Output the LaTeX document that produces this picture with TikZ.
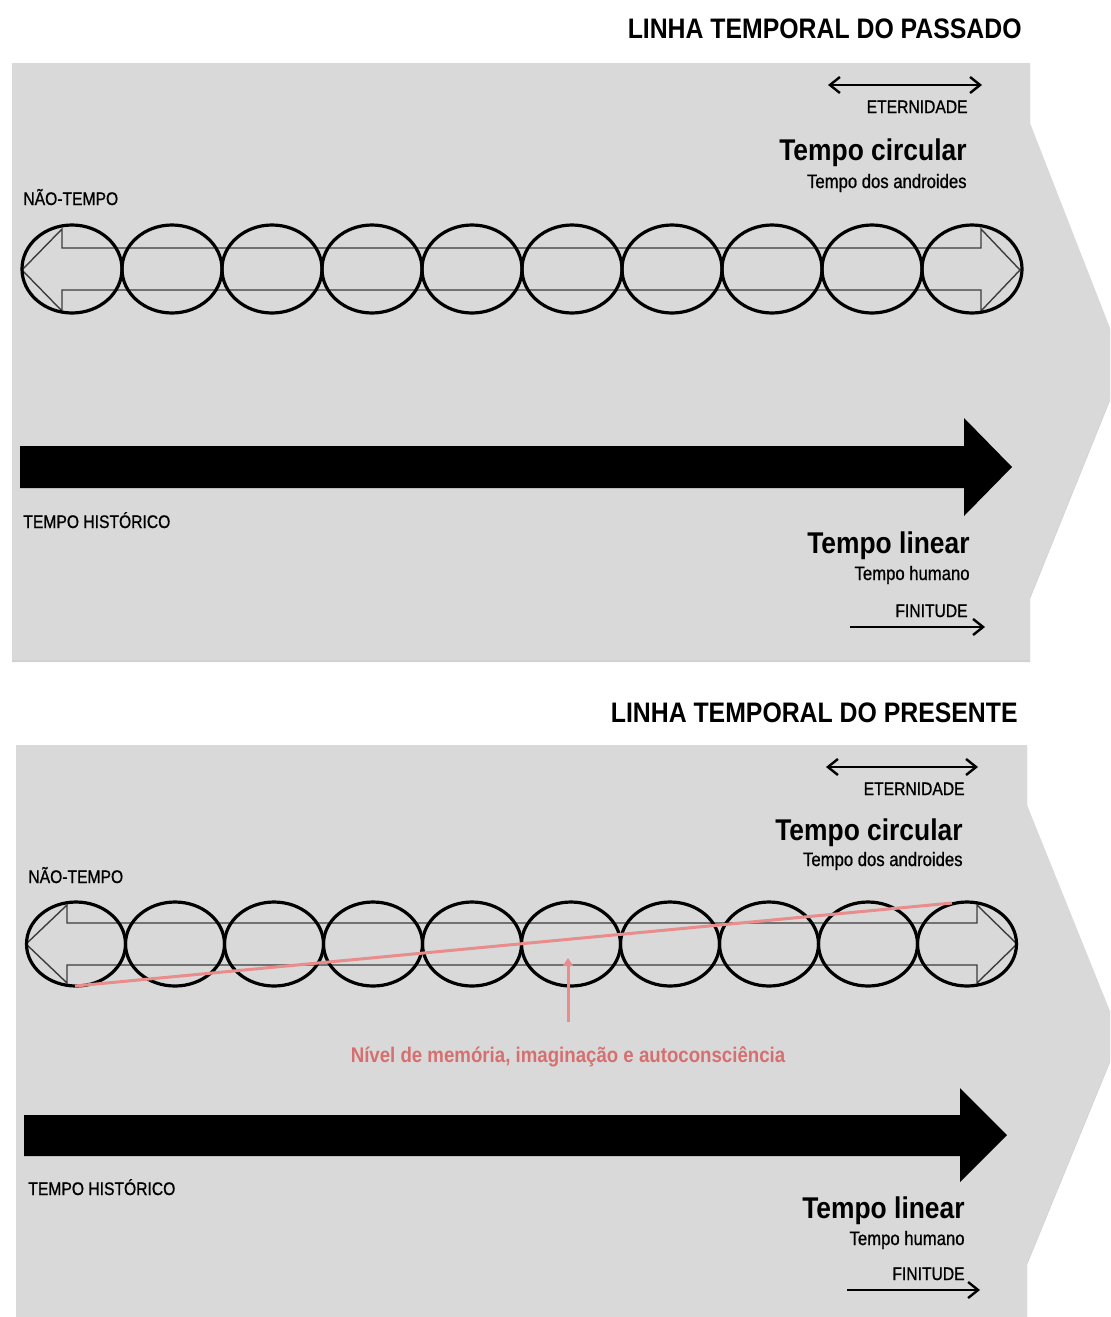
\documentclass[tikz,border=0pt]{standalone}
\usepackage{fontspec}
\setmainfont{Liberation Sans}[FakeStretch=0.88]
\newfontfamily\tagfont{Liberation Sans}[FakeStretch=0.86, FakeBold=0.9]
\usetikzlibrary{shapes.geometric, positioning, arrows.meta, shadows}
\definecolor{panelgray}{RGB}{217,217,217}
\definecolor{memred}{RGB}{232,140,140}
\definecolor{memtext}{RGB}{214,112,112}
\definecolor{outline}{RGB}{60,60,60}

\begin{document}
\begin{tikzpicture}[
    x=0.5pt, y=-0.5pt,
    panel/.style={fill=panelgray, draw=none, drop shadow={shadow xshift=0pt, shadow yshift=-1pt, opacity=0.18, fill=black}},
    heading/.style={font=\fontsize{14.1}{16}\selectfont\bfseries, inner sep=0pt, anchor=base east},
    bigname/.style={font=\fontsize{15}{17}\selectfont\bfseries, inner sep=0pt, anchor=base east},
    subname/.style={font=\tagfont\fontsize{9.7}{11}\selectfont, inner sep=0pt, anchor=base east},
    tag/.style={font=\tagfont\fontsize{9.1}{11}\selectfont, inner sep=0pt},
    ring/.style={ellipse, draw=black, line width=1.6pt, minimum width=50pt, minimum height=44pt, inner sep=0pt},
    hollow/.style={draw=outline, line width=0.7pt, line join=miter},
    blockarrow/.style={fill=black, draw=none},
    twoway/.style={line width=1.2pt, {Straight Barb[length=5pt,width=8pt]}-{Straight Barb[length=5pt,width=8pt]}},
    oneway/.style={line width=1.2pt, -{Straight Barb[length=5pt,width=8pt]}},
    memline/.style={draw=memred, line width=1.5pt},
    memarrow/.style={draw=memred, line width=1.5pt, -{Triangle[length=4pt,width=5pt]}},
    memtag/.style={font=\fontsize{10.6}{12}\selectfont\bfseries, text=memtext, inner sep=0pt, anchor=base},
]
\useasboundingbox (0,0) rectangle (1110,1317);
\clip (0,0) rectangle (1110,1317);

% Past timeline
\node[heading] (pastTitle) at (1022,39) {LINHA TEMPORAL DO PASSADO};
\path[panel] (12,63) -- (1030,63) -- (1030,123) -- (1124,364) -- (1030,597) -- (1030,660) -- (12,660) -- cycle;

\coordinate (pastEternL) at (828,85);
\coordinate (pastEternR) at (982,85);
\draw[twoway] (pastEternL) -- (pastEternR);
\node[tag, anchor=base east] (pastEtern) at (968,113) {ETERNIDADE};
\node[bigname] (pastCirc) at (967,160) {Tempo circular};
\node[subname] (pastAndroid) at (967,188) {Tempo dos androides};
\node[tag, anchor=base west] (pastNon) at (23,205) {NÃO-TEMPO};

\draw[hollow] (22,270) -- (62,229) -- (62,248) -- (981,248) -- (981,229) -- (1020,270)
    -- (981,311) -- (981,290) -- (62,290) -- (62,311) -- cycle;
\foreach \i in {0,...,9}
    \node[ring] (pastRing\i) at (72+100*\i,269) {};

\path[blockarrow] (20,446) -- (964,446) -- (964,418) -- (1012,467) -- (964,516) -- (964,488) -- (20,488) -- cycle;
\node[tag, anchor=base west] (pastHist) at (23,528) {TEMPO HISTÓRICO};
\node[bigname] (pastLin) at (970,553) {Tempo linear};
\node[subname] (pastHuman) at (970,580) {Tempo humano};
\node[tag, anchor=base east] (pastFin) at (968,617) {FINITUDE};
\coordinate (pastFinL) at (850,627);
\coordinate (pastFinR) at (985,627);
\draw[oneway] (pastFinL) -- (pastFinR);

% Present timeline
\node[heading] (presTitle) at (1018,722) {LINHA TEMPORAL DO PRESENTE};
\path[panel] (16,745) -- (1027,745) -- (1027,805) -- (1120,1036) -- (1027,1263) -- (1027,1342) -- (16,1342) -- cycle;

\coordinate (presEternL) at (826,767);
\coordinate (presEternR) at (978,767);
\draw[twoway] (presEternL) -- (presEternR);
\node[tag, anchor=base east] (presEtern) at (965,795) {ETERNIDADE};
\node[bigname] (presCirc) at (963,840) {Tempo circular};
\node[subname] (presAndroid) at (963,866) {Tempo dos androides};
\node[tag, anchor=base west] (presNon) at (28,883) {NÃO-TEMPO};

\draw[hollow] (26,944) -- (67,905) -- (67,923) -- (977,923) -- (977,905) -- (1017,944)
    -- (977,983) -- (977,965) -- (67,965) -- (67,983) -- cycle;
\foreach \i in {0,...,9}
    \node[ring, minimum width=49.5pt, minimum height=42pt] (presRing\i) at (76+99*\i,944) {};

% memory level
\coordinate (memLow) at (75,986);
\coordinate (memHigh) at (952,903);
\draw[memline] (memLow) -- (memHigh);
\node[memtag] (memLabel) at (568,1062) {Nível de memória, imaginação e autoconsciência};
\coordinate (memFoot) at (568,1022);
\coordinate (memTip) at (568,958);
\draw[memarrow] (memFoot) -- (memTip);

\path[blockarrow] (24,1115) -- (960,1115) -- (960,1088) -- (1007,1135) -- (960,1182) -- (960,1156) -- (24,1156) -- cycle;
\node[tag, anchor=base west] (presHist) at (28,1195) {TEMPO HISTÓRICO};
\node[bigname] (presLin) at (965,1218) {Tempo linear};
\node[subname] (presHuman) at (965,1245) {Tempo humano};
\node[tag, anchor=base east] (presFin) at (965,1280) {FINITUDE};
\coordinate (presFinL) at (847,1290);
\coordinate (presFinR) at (980,1290);
\draw[oneway] (presFinL) -- (presFinR);

\end{tikzpicture}
\end{document}
